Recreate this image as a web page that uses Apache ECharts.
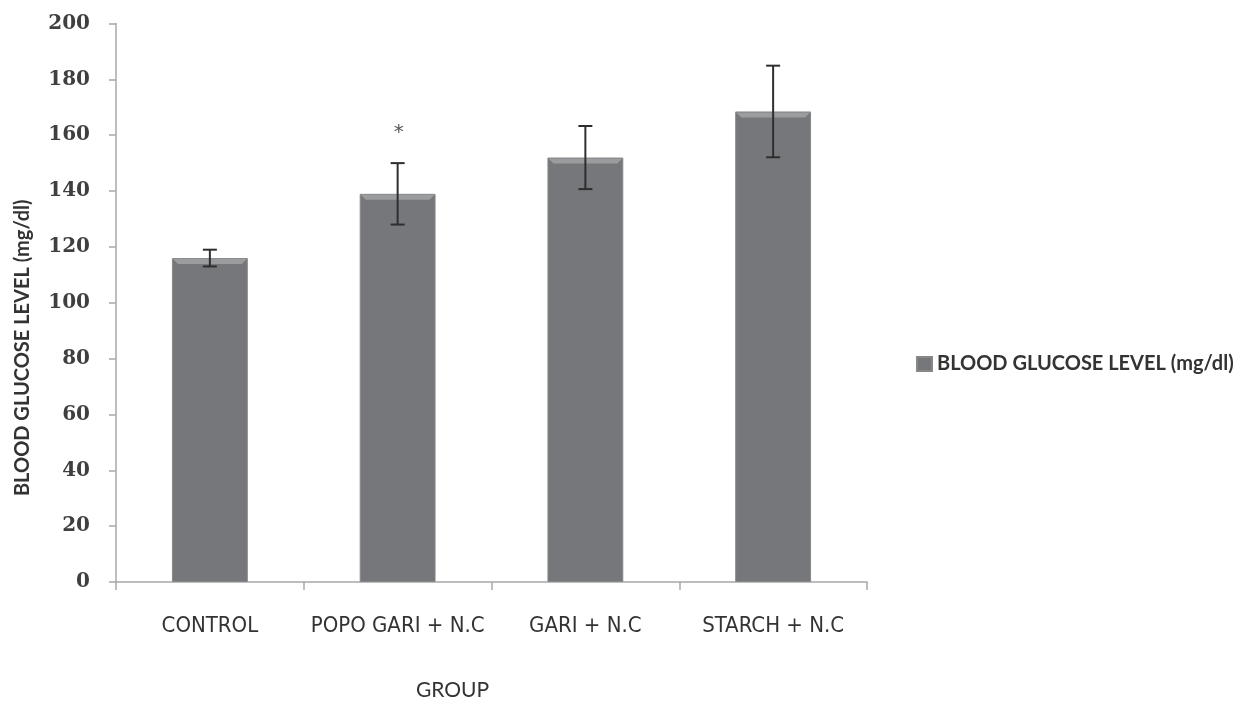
<!DOCTYPE html>
<html>
<head>
<meta charset="utf-8">
<script src="https://cdn.jsdelivr.net/npm/echarts@6/dist/echarts.min.js"></script>
<style>html,body{margin:0;padding:0;background:#fff}#c{width:1242px;height:706px}</style>
</head>
<body>
<div id="c"></div>
<script>
const categories = ['CONTROL', 'POPO GARI + N.C', 'GARI + N.C', 'STARCH + N.C'];
const glucose = [116, 139, 152, 168.5];
const errors = [3, 11, 11.3, 16.4];
const markers = ['', '*', '', ''];
const seriesName = 'BLOOD GLUCOSE LEVEL (mg/dl)';
const yMin = 0, yMax = 200, yStep = 20;

const BAR_FRAC = 0.404;
const chart = echarts.init(document.getElementById('c'));

const option = {
  animation: false,
  backgroundColor: '#ffffff',
  grid: { left: 116, right: 375, top: 23.5, bottom: 119, containLabel: false },
  legend: {
    data: [seriesName],
    left: 911, top: 349,
    icon: 'rect', itemWidth: 15, itemHeight: 14,
    textStyle: { fontFamily: 'Lato', fontSize: 20, color: '#333', fontWeight: 'bold' }
  },
  xAxis: {
    type: 'category',
    data: categories,
    name: 'GROUP',
    nameLocation: 'middle',
    nameGap: 98,
    nameTextStyle: { fontFamily: 'Lato', fontSize: 21, color: '#333', padding: [0, 78, 0, 0] },
    axisLine: { lineStyle: { color: '#a8a8a8', width: 1.5 } },
    axisTick: { show: true, length: 8, lineStyle: { color: '#a8a8a8', width: 1.5 } },
    axisLabel: {
      interval: 0,
      margin: 33, lineHeight: 22,
      fontFamily: '"Liberation Sans Narrow", "DejaVu Sans Condensed", sans-serif',
      fontSize: 22, color: '#333'
    }
  },
  yAxis: {
    type: 'value',
    min: yMin, max: yMax, interval: yStep,
    name: seriesName,
    nameLocation: 'middle',
    nameGap: 83,
    nameRotate: 90,
    nameTextStyle: { fontFamily: 'Lato', fontSize: 20, fontWeight: 'bold', color: '#333', padding: [0, 90, 0, 0] },
    axisLine: { show: true, lineStyle: { color: '#a8a8a8', width: 1.5 } },
    axisTick: { show: true, length: 7, lineStyle: { color: '#a8a8a8', width: 1.5 } },
    splitLine: { show: false },
    axisLabel: {
      margin: 26,
      fontFamily: '"DejaVu Serif", serif',
      fontWeight: 'bold',
      fontSize: 20, color: '#3f3f3f'
    }
  },
  series: [
    {
      name: seriesName,
      type: 'bar',
      data: glucose,
      barWidth: (BAR_FRAC * 100) + '%',
      itemStyle: { color: '#75777a', borderColor: '#86888a', borderWidth: 1 },
      z: 2
    },
    {
      name: 'bevel',
      type: 'custom',
      silent: true,
      z: 3,
      data: glucose.map((v, i) => [i, v]),
      renderItem: function (params, api) {
        const i = api.value(0), v = api.value(1);
        const p = api.coord([i, v]);
        const bw = api.size([1, 0])[0] * BAR_FRAC;
        const x0 = p[0] - bw / 2, x1 = p[0] + bw / 2, y = p[1];
        return {
          type: 'polygon',
          shape: { points: [[x0 + 1, y + 1], [x1 - 1, y + 1], [x1 - 6, y + 6], [x0 + 6, y + 6]] },
          style: { fill: '#9a9c9e' }
        };
      }
    },
    {
      name: 'error',
      type: 'custom',
      silent: true,
      z: 4,
      data: glucose.map((v, i) => [i, v, errors[i]]),
      renderItem: function (params, api) {
        const i = api.value(0), v = api.value(1), e = api.value(2);
        const t = api.coord([i, v + e]);
        const b = api.coord([i, v - e]);
        const x = t[0], cap = 7;
        const st = { stroke: '#2e2e2e', lineWidth: 2 };
        const children = [
          { type: 'line', shape: { x1: x, y1: t[1], x2: x, y2: b[1] }, style: st },
          { type: 'line', shape: { x1: x - cap, y1: t[1], x2: x + cap, y2: t[1] }, style: st },
          { type: 'line', shape: { x1: x - cap, y1: b[1], x2: x + cap, y2: b[1] }, style: st }
        ];
        const m = markers[params.dataIndex];
        if (m) {
          children.push({
            type: 'text',
            style: { text: m, x: x + 1, y: t[1] - 30, align: 'center', verticalAlign: 'middle',
                     fontFamily: '"DejaVu Sans", sans-serif', fontSize: 20, fill: '#555' }
          });
        }
        return { type: 'group', children: children };
      }
    }
  ]
};
chart.setOption(option);
</script>
</body>
</html>
